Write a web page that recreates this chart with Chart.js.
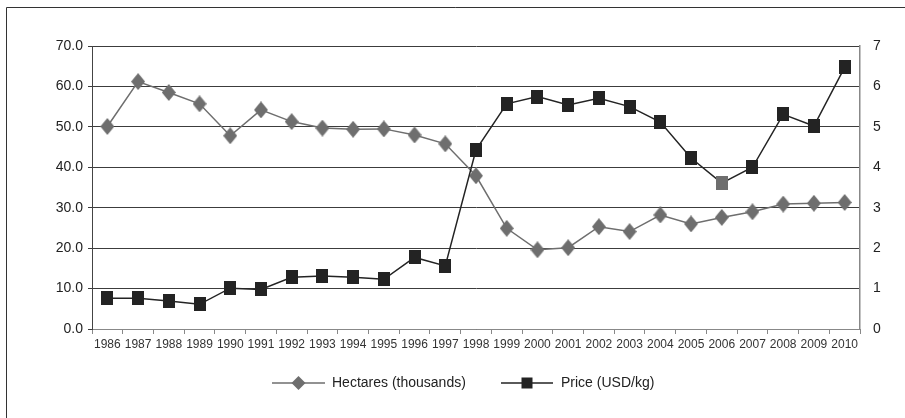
<!DOCTYPE html>
<html>
<head>
<meta charset="utf-8">
<script src="https://cdn.jsdelivr.net/npm/chart.js@4/dist/chart.umd.min.js"></script>
<style>
html,body{margin:0;padding:0;background:#fff;}
canvas{display:block;}
</style>
</head>
<body>
<canvas id="c" width="905" height="418"></canvas>
<script>
const years = ['1986','1987','1988','1989','1990','1991','1992','1993','1994','1995','1996','1997','1998','1999','2000','2001','2002','2003','2004','2005','2006','2007','2008','2009','2010'];
const hectares = [50.1,61.2,58.5,55.7,47.8,54.2,51.3,49.7,49.4,49.5,48.0,45.8,37.9,24.9,19.6,20.1,25.3,24.1,28.2,26.0,27.6,29.0,30.9,31.1,31.3];
const price = [0.76,0.76,0.69,0.61,1.01,0.98,1.28,1.31,1.28,1.23,1.77,1.56,4.43,5.57,5.75,5.54,5.71,5.50,5.12,4.23,3.61,4.00,5.31,5.02,6.47];
const leftTicks = [0,10,20,30,40,50,60,70];
const rightTicks = [0,1,2,3,4,5,6,7];
const seriesNames = ['Hectares (thousands)','Price (USD/kg)'];

const GRAY = '#6e6e6e';
const DARK = '#232323';
const FONT = '"Liberation Sans", Arial, sans-serif';

function makeDiamond(w, h, color) {
  const c = document.createElement('canvas');
  c.width = w; c.height = h;
  const x = c.getContext('2d');
  x.fillStyle = color;
  x.beginPath();
  x.moveTo(w / 2, 0); x.lineTo(w, h / 2); x.lineTo(w / 2, h); x.lineTo(0, h / 2);
  x.closePath(); x.fill();
  return c;
}
function makeRect(w, h, color) {
  const c = document.createElement('canvas');
  c.width = w; c.height = h;
  const x = c.getContext('2d');
  x.fillStyle = color;
  x.fillRect(0, 0, w, h);
  return c;
}
const diamondImg = makeDiamond(14, 17, GRAY);
const squareImg = makeRect(12, 14, DARK);
const squareGrayImg = makeRect(12, 14, GRAY);

const framePlugin = {
  id: 'frame',
  beforeDraw(chart) {
    const ctx = chart.ctx;
    ctx.save();
    ctx.fillStyle = '#fff';
    ctx.fillRect(0, 0, chart.width, chart.height);
    ctx.strokeStyle = '#333';
    ctx.lineWidth = 1;
    ctx.beginPath();
    ctx.moveTo(6.5, chart.height);
    ctx.lineTo(6.5, 7.5);
    ctx.lineTo(chart.width, 7.5);
    ctx.stroke();
    ctx.restore();
  }
};

const legendPlugin = {
  id: 'customLegend',
  afterDraw(chart) {
    const ctx = chart.ctx;
    const y = 383;
    const items = [
      {x0: 272, x1: 325, color: GRAY, shape: 'diamond', tx: 332, text: seriesNames[0]},
      {x0: 501, x1: 553, color: DARK, shape: 'square', tx: 561, text: seriesNames[1]}
    ];
    ctx.save();
    items.forEach(it => {
      ctx.strokeStyle = it.color;
      ctx.lineWidth = 1.5;
      ctx.beginPath();
      ctx.moveTo(it.x0, y);
      ctx.lineTo(it.x1, y);
      ctx.stroke();
      const cx = (it.x0 + it.x1) / 2;
      ctx.fillStyle = it.color;
      ctx.beginPath();
      if (it.shape === 'diamond') {
        ctx.moveTo(cx - 7, y); ctx.lineTo(cx, y - 7); ctx.lineTo(cx + 7, y); ctx.lineTo(cx, y + 7);
        ctx.closePath();
      } else {
        ctx.rect(cx - 5.5, y - 5.5, 11, 11);
      }
      ctx.fill();
      ctx.fillStyle = '#222';
      ctx.font = '14px ' + FONT;
      ctx.textBaseline = 'middle';
      ctx.textAlign = 'left';
      ctx.fillText(it.text, it.tx, y);
    });
    ctx.restore();
  }
};

new Chart(document.getElementById('c'), {
  type: 'line',
  data: {
    labels: years,
    datasets: [
      {
        label: seriesNames[0],
        data: hectares,
        yAxisID: 'y',
        borderColor: GRAY,
        backgroundColor: GRAY,
        borderWidth: 1.5,
        pointStyle: diamondImg,
        pointRadius: 8,
        pointBorderWidth: 0,
        tension: 0,
        order: 2
      },
      {
        label: seriesNames[1],
        data: price,
        yAxisID: 'y2',
        borderColor: DARK,
        backgroundColor: DARK,
        borderWidth: 1.5,
        pointStyle: (c) => c.dataIndex === 20 ? squareGrayImg : squareImg,
        pointRadius: 8,
        pointBorderWidth: 0,
        tension: 0,
        order: 1
      }
    ]
  },
  options: {
    responsive: false,
    animation: false,
    events: [],
    layout: {padding: {top: 46, bottom: 59, left: 0, right: 0}},
    plugins: {legend: {display: false}, tooltip: {enabled: false}, title: {display: false}},
    scales: {
      x: {
        type: 'category',
        offset: true,
        afterFit(s) { s.height = 30; },
        grid: {offset: true, drawOnChartArea: false, drawTicks: true, tickLength: 5, color: '#888'},
        border: {color: '#888', width: 1},
        ticks: {
          autoSkip: false, maxRotation: 0, minRotation: 0, padding: 3,
          color: '#333',
          font: {family: '"Liberation Sans Narrow", "Arial Narrow", "Liberation Sans", sans-serif', size: 12}
        }
      },
      y: {
        position: 'left',
        min: leftTicks[0], max: leftTicks[leftTicks.length - 1],
        afterFit(s) { s.width = 92; },
        afterBuildTicks(s) { s.ticks = leftTicks.map(v => ({value: v})); },
        grid: {color: '#3c3c3c', lineWidth: 1, tickLength: 4, drawTicks: true},
        border: {color: '#444', width: 1},
        ticks: {
          padding: 5, color: '#222',
          font: {family: FONT, size: 14},
          callback: (v) => Number(v).toFixed(1)
        }
      },
      y2: {
        position: 'right',
        min: rightTicks[0], max: rightTicks[rightTicks.length - 1],
        afterFit(s) { s.width = 45; },
        afterBuildTicks(s) { s.ticks = rightTicks.map(v => ({value: v})); },
        grid: {drawOnChartArea: false, drawTicks: false},
        border: {color: '#888', width: 1.5},
        ticks: {
          padding: 13, color: '#222',
          font: {family: FONT, size: 14},
          callback: (v) => String(v)
        }
      }
    }
  },
  plugins: [framePlugin, legendPlugin]
});
</script>
</body>
</html>
